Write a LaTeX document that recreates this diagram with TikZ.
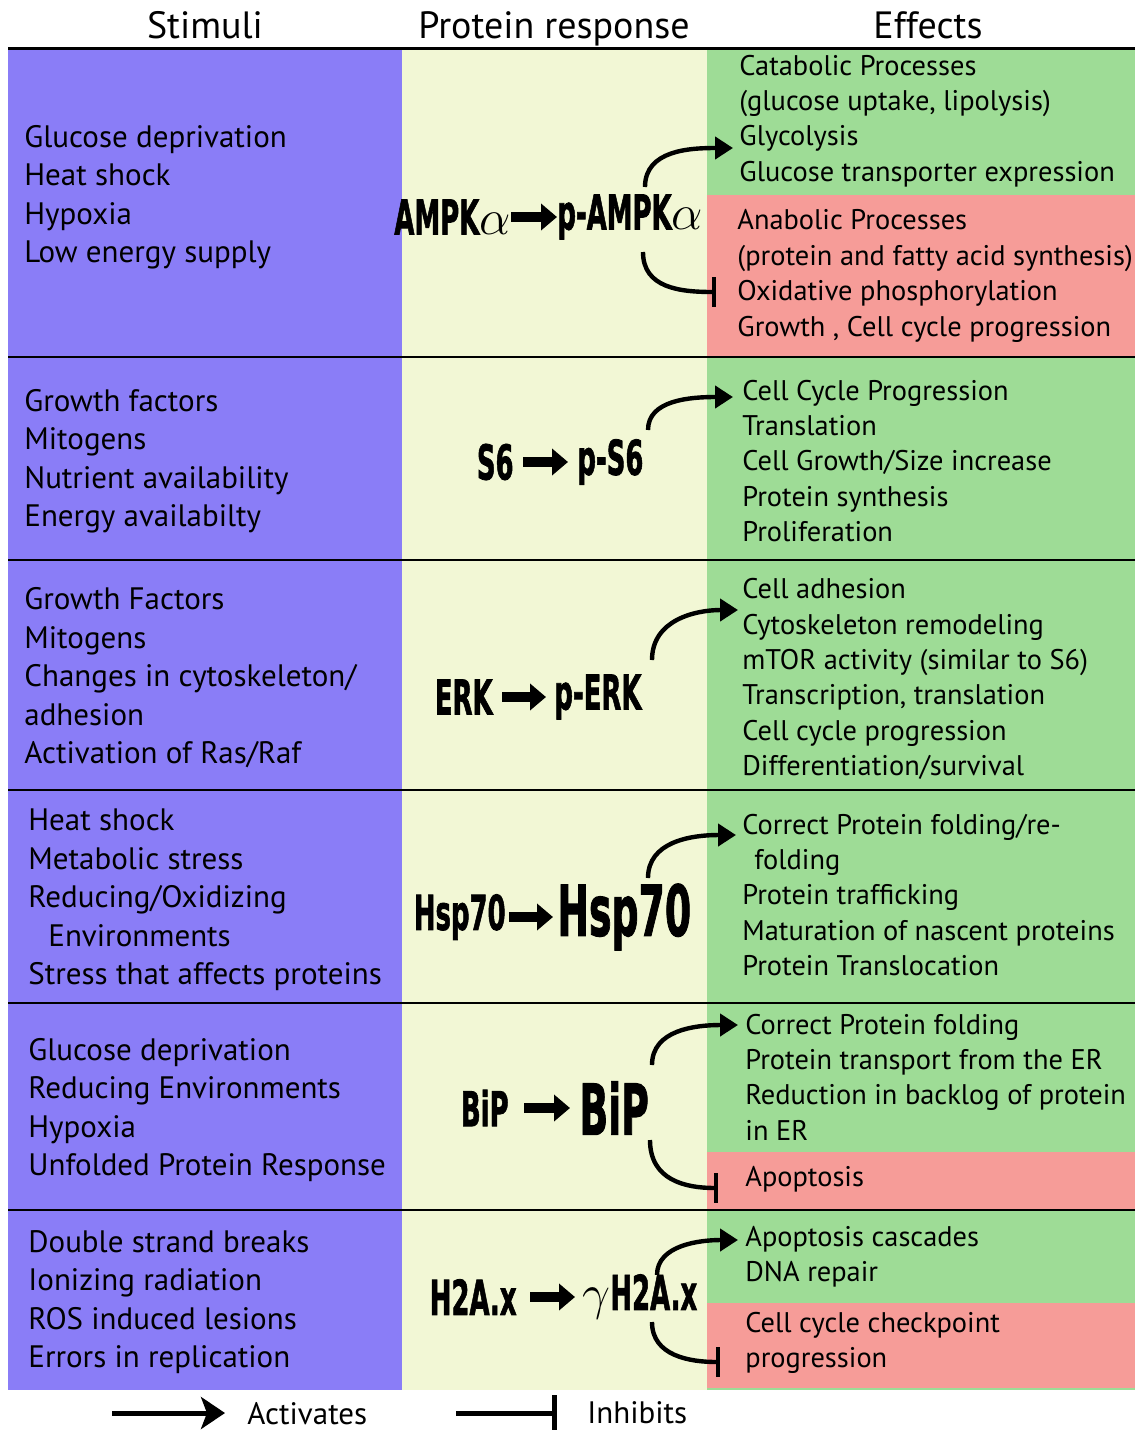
\documentclass[tikz,border=0pt]{standalone}
\usepackage{fontspec}
\setmainfont{PT Sans}
\newfontfamily\protfont[BoldFeatures={FakeBold=1.8}]{DejaVu Sans}
\usetikzlibrary{arrows.meta,positioning}
\definecolor{stimcol}{HTML}{8A7DF7}
\definecolor{protcol}{HTML}{F2F7D5}
\definecolor{upcol}{HTML}{9EDC96}
\definecolor{downcol}{HTML}{F69C98}
\newcommand{\prot}[1]{\scalebox{0.54}[1]{\protfont\bfseries #1}}
\tikzset{
  head/.style={anchor=base,inner sep=0pt,font=\fontsize{19}{19}\selectfont},
  stim/.style={anchor=west,align=left,inner sep=0pt,font=\fontsize{15.5}{19.25}\selectfont},
  eff/.style={anchor=west,align=left,inner sep=0pt,font=\fontsize{14.2}{17.7}\selectfont},
  pr/.style={inner sep=0pt,font=\fontsize{24}{24}\selectfont},
  big/.style={inner sep=0pt,font=\fontsize{35}{35}\selectfont},
  fat/.style={-{Triangle[length=8pt,width=13pt]},line width=5pt},
  act/.style={-{Triangle[length=9pt,width=11pt]},line width=2.2pt},
  inh/.style={-{Bar[width=15pt,line width=2.2pt]},line width=2.2pt},
  sep/.style={line width=1pt}
}
\begin{document}
\begin{tikzpicture}[x=0.5pt,y=-0.5pt]
  \useasboundingbox (0,0) rectangle (1135,1430);
  % table body
  \fill[stimcol] (8,48) rectangle (402,1390);
  \fill[protcol] (402,48) rectangle (707,1390);
  \fill[upcol] (707,48) rectangle (1135,1390);
  \fill[downcol] (707,195) rectangle (1135,357);
  \fill[downcol] (707,1152) rectangle (1135,1210);
  \fill[downcol] (707,1303) rectangle (1135,1388);
  \draw[line width=1.5pt] (8,48) -- (1135,48);
  \foreach \y in {357,560,790,1003,1210}
    \draw[sep] (8,\y) -- (1135,\y);

  % headers
  \node[head] (hstim) at (205,38) {Stimuli};
  \node[head] (hprot) at (554,38) {Protein response};
  \node[head] (heff) at (928,38) {Effects};

  % AMPK
  \node[stim] (stim1) at (24,197) {Glucose deprivation\\Heat shock\\Hypoxia\\Low energy supply};
  \node[eff] (eff1a) at (739,121) {Catabolic Processes\\(glucose uptake, lipolysis)\\Glycolysis\\Glucose transporter expression};
  \node[eff] (eff1b) at (737,276) {Anabolic Processes\\(protein and fatty acid synthesis)\\Oxidative phosphorylation\\Growth , Cell cycle progression};
  \node[pr,anchor=east] (ampk) at (511,217) {\prot{AMPK}$\alpha$};
  \node[pr,anchor=west] (pampk) at (557,217) {\prot{p-AMPK}$\alpha$};
  \draw[fat] (ampk) -- (pampk);
  \coordinate (up1s) at (645,187);
  \coordinate (up1e) at (733,148);
  \coordinate (dn1s) at (643,252);
  \coordinate (dn1e) at (716,292);
  \draw[act] (up1s) .. controls (645,150) and (690,148) .. (up1e);
  \draw[inh] (dn1s) .. controls (643,288) and (680,292) .. (dn1e);

  % S6
  \node[stim] (stim2) at (24,461) {Growth factors\\Mitogens\\Nutrient availability\\Energy availabilty};
  \node[eff] (eff2) at (742,461) {Cell Cycle Progression\\Translation\\Cell Growth/Size increase\\Protein synthesis\\Proliferation};
  \node[pr,anchor=east] (s6) at (514,462) {\prot{S6}};
  \node[pr,anchor=west] (ps6) at (577,462) {\prot{p-S6}};
  \draw[fat,shorten <=4.5pt,shorten >=4.5pt] (s6) -- (ps6);
  \coordinate (up2s) at (648,430);
  \coordinate (up2e) at (733,397);
  \draw[act] (up2s) .. controls (648,400) and (690,397) .. (up2e);

  % ERK
  \node[stim] (stim3) at (24,678) {Growth Factors\\Mitogens\\Changes in cytoskeleton/\\adhesion\\Activation of Ras/Raf};
  \node[eff] (eff3) at (742,679) {Cell adhesion\\Cytoskeleton remodeling\\mTOR activity (similar to S6)\\Transcription, translation\\Cell cycle progression\\Differentiation/survival};
  \node[pr,anchor=east] (erk) at (493,697) {\prot{ERK}};
  \node[pr,anchor=west] (perk) at (554,697) {\prot{p-ERK}};
  \draw[fat,shorten <=4.5pt,shorten >=4pt] (erk) -- (perk);
  \coordinate (up3s) at (652,660);
  \coordinate (up3e) at (738,610);
  \draw[act] (up3s) .. controls (652,620) and (695,610) .. (up3e);

  % Hsp70
  \node[stim] (stim4) at (28,900) {Heat shock\\Metabolic stress\\Reducing/Oxidizing\\\hspace*{10pt}Environments\\Stress that affects proteins};
  \node[eff] (eff4) at (742,895) {Correct Protein folding/re-\\\hspace*{6pt}folding\\Protein trafficking\\Maturation of nascent proteins\\Protein Translocation};
  \node[pr,anchor=east] (hsp) at (506,917) {\prot{Hsp70}};
  \node[big,anchor=west] (bighsp) at (557,917) {\prot{Hsp70}};
  \draw[fat,shorten <=1.5pt,shorten >=2pt] (hsp) -- (bighsp);
  \coordinate (up4s) at (648,878);
  \coordinate (up4e) at (736,835);
  \draw[act] (up4s) .. controls (648,842) and (690,835) .. (up4e);

  % BiP
  \node[stim] (stim5) at (28,1110) {Glucose deprivation\\Reducing Environments\\Hypoxia\\Unfolded Protein Response};
  \node[eff] (eff5a) at (745,1077) {Correct Protein folding\\Protein transport from the ER\\Reduction in backlog of protein\\in ER};
  \node[eff] (eff5b) at (745,1179) {Apoptosis};
  \node[pr,anchor=east] (bip) at (509,1108) {\prot{BiP}};
  \node[big,anchor=west] (bigbip) at (579,1108) {\prot{BiP}};
  \draw[fat,shorten <=7.5pt,shorten >=4.5pt] (bip) -- (bigbip);
  \coordinate (up5s) at (652,1065);
  \coordinate (up5e) at (738,1025);
  \coordinate (dn5s) at (650,1140);
  \coordinate (dn5e) at (718,1188);
  \draw[act] (up5s) .. controls (652,1030) and (695,1025) .. (up5e);
  \draw[inh] (dn5s) .. controls (650,1180) and (685,1188) .. (dn5e);

  % H2A.x
  \node[stim] (stim6) at (28,1302) {Double strand breaks\\Ionizing radiation\\ROS induced lesions\\Errors in replication};
  \node[eff] (eff6a) at (745,1257) {Apoptosis cascades\\DNA repair};
  \node[eff] (eff6b) at (745,1343) {Cell cycle checkpoint\\progression};
  \node[pr,anchor=east] (h2ax) at (517,1297) {\prot{H2A.x}};
  \node[pr,anchor=west] (gh2ax) at (582,1297) {$\gamma$\prot{H2A.x}};
  \draw[fat,shorten <=6.5pt,shorten >=3.5pt] (h2ax) -- (gh2ax);
  \coordinate (up6s) at (657,1275);
  \coordinate (up6e) at (738,1240);
  \coordinate (dn6s) at (652,1322);
  \coordinate (dn6e) at (720,1362);
  \draw[act] (up6s) .. controls (657,1245) and (700,1240) .. (up6e);
  \draw[inh] (dn6s) .. controls (652,1356) and (690,1362) .. (dn6e);

  % legend
  \coordinate (acts) at (112,1413);
  \coordinate (acte) at (225,1413);
  \draw[line width=2.5pt,-{Stealth[length=12pt,width=16pt,inset=3pt]}] (acts) -- (acte);
  \node[anchor=base west,inner sep=0pt,font=\fontsize{15.5}{15.5}\selectfont] (actlbl) at (247,1424) {Activates};
  \coordinate (inhs) at (456,1413);
  \coordinate (inhe) at (557,1413);
  \draw[line width=2.5pt,-{Bar[width=18pt,line width=2.5pt]}] (inhs) -- (inhe);
  \node[anchor=base west,inner sep=0pt,font=\fontsize{15.5}{15.5}\selectfont] (inhlbl) at (587,1423) {Inhibits};
\end{tikzpicture}
\end{document}
